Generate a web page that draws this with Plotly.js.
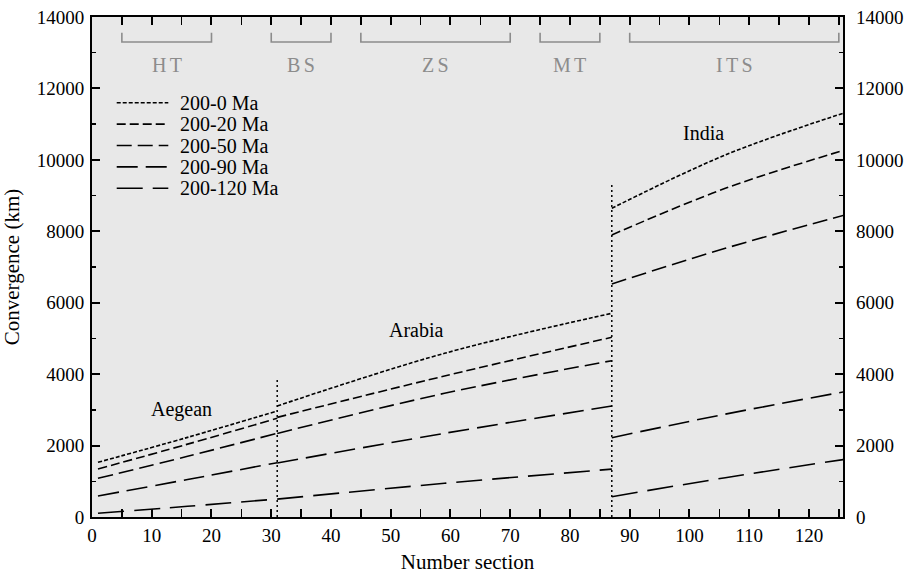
<!DOCTYPE html>
<html>
<head>
<meta charset="utf-8">
<script src="https://cdn.plot.ly/plotly-3.0.1.min.js"></script>
<style>html,body{margin:0;padding:0;background:#fff;}#chart{width:910px;height:576px;}</style>
</head>
<body>
<div id="chart"></div>
<script>
// ---- data ----
const sec1X = [1, 16, 31];
const sec2X = [31, 59, 87];
const sec3X = [87, 106, 126];

const seriesNames = ["200-0 Ma", "200-20 Ma", "200-50 Ma", "200-90 Ma", "200-120 Ma"];
const ma0   = [[1531, 2230, 2968], [3108, 4583, 5703], [8643, 10136, 11321]];
const ma20  = [[1344, 2040, 2763], [2790, 3948, 5031], [7896, 9203, 10276]];
const ma50  = [[1083, 1700, 2343], [2340, 3463, 4377], [6524, 7523, 8456]];
const ma90  = [[588, 1050, 1521], [1510, 2343, 3108], [2221, 2880, 3509]];
const ma120 = [[103, 300, 504], [500, 943, 1340], [569, 1100, 1615]];

const boundaryX = [31, 87];
const boundaryTop = [3900, 9320];

const zoneLabels = ["HT", "BS", "ZS", "MT", "ITS"];
const zoneStart = [5, 30, 45, 75, 90];
const zoneEnd = [20, 40, 70, 85, 125];

const regionLabels = ["Aegean", "Arabia", "India"];
const regionX = [15.0, 54.3, 102.3];
const regionY = [3000, 5240, 10750];

const yTicks = [0, 2000, 4000, 6000, 8000, 10000, 12000, 14000];
const yTickText = ["0", "2000", "4000", "6000", "8000", "10000", "12000", "14000"];
const xTicks = [0, 10, 20, 30, 40, 50, 60, 70, 80, 90, 100, 110, 120];

// ---- styles ----
const dashes = ["4px,2px", "9px,4px", "15px,6px", "21px,8px", "26px,10px"];
const serif = "Liberation Serif, Times New Roman, serif";

const allSeries = [ma0, ma20, ma50, ma90, ma120];
const traces = allSeries.map((s, i) => {
  const x = [...sec1X, null, ...sec2X, null, ...sec3X];
  const y = [...s[0], null, ...s[1], null, ...s[2]];
  return {
    x: x, y: y, type: "scatter", mode: "lines", name: seriesNames[i],
    line: {color: "#000", width: 1.6, dash: dashes[i], shape: "spline", smoothing: 1},
    connectgaps: false, hoverinfo: "skip", showlegend: false
  };
});

boundaryX.forEach((bx, i) => {
  traces.push({
    x: [bx, bx], y: [0, boundaryTop[i]], type: "scatter", mode: "lines",
    line: {color: "#000", width: 1.5, dash: "2px,3px"}, showlegend: false, hoverinfo: "skip"
  });
});
// invisible trace to activate right axis
traces.push({x: [0], y: [0], yaxis: "y2", mode: "markers", marker: {opacity: 0}, showlegend: false, hoverinfo: "skip"});

const shapes = zoneStart.map((x0, i) => ({
  type: "path", xref: "x", yref: "y",
  path: `M ${x0} 13560 L ${x0} 13300 L ${zoneEnd[i]} 13300 L ${zoneEnd[i]} 13560`,
  line: {color: "#8c8c8c", width: 1.6}
}));

const annotations = [];
zoneLabels.forEach((t, i) => {
  annotations.push({
    x: (zoneStart[i] + zoneEnd[i]) / 2, y: 12650, xref: "x", yref: "y",
    text: t.split("").join("\u2006"), showarrow: false,
    font: {family: serif, size: 20, color: "#8c8c8c"}
  });
});
regionLabels.forEach((t, i) => {
  annotations.push({
    x: regionX[i], y: regionY[i], xref: "x", yref: "y", text: t, showarrow: false,
    font: {family: serif, size: 20, color: "#000"}
  });
});

// custom legend (samples + labels) in paper coordinates
const legTop = 0.8286, legStep = 0.0428;
seriesNames.forEach((nm, i) => {
  const yy = legTop - i * legStep;
  shapes.push({
    type: "line", xref: "paper", yref: "paper", x0: 0.0329, x1: 0.1016, y0: yy, y1: yy,
    line: {color: "#000", width: 1.6, dash: dashes[i]}
  });
  annotations.push({
    x: 0.1145, y: yy, xref: "paper", yref: "paper", xanchor: "left", yanchor: "middle",
    text: nm, showarrow: false, font: {family: serif, size: 20, color: "#000"}
  });
});

const axisCommon = {
  showgrid: false, zeroline: false, showline: true, linecolor: "#000", linewidth: 2,
  ticks: "inside", ticklen: 8, tickwidth: 2, tickcolor: "#000",
  tickfont: {family: serif, size: 19, color: "#000"}
};

const layout = {
  width: 910, height: 576,
  margin: {l: 92, r: 67, t: 17, b: 59},
  paper_bgcolor: "#fff", plot_bgcolor: "#e8e8e8",
  font: {family: serif, color: "#000"},
  xaxis: Object.assign({}, axisCommon, {
    range: [0, 125.7], tickvals: xTicks, mirror: "allticks",
    minor: {ticks: "inside", dtick: 5, ticklen: 4, tickwidth: 1.5, tickcolor: "#000"},
    title: {text: "Number section", font: {family: serif, size: 21, color: "#000"}, standoff: 10}
  }),
  yaxis: Object.assign({}, axisCommon, {
    range: [0, 14000], tickvals: yTicks, ticktext: yTickText, mirror: "allticks",
    ticklabelstandoff: 2,
    minor: {ticks: "inside", dtick: 1000, ticklen: 4, tickwidth: 1.5, tickcolor: "#000"},
    title: {text: "Convergence (km)", font: {family: serif, size: 21, color: "#000"}, standoff: 14}
  }),
  yaxis2: Object.assign({}, axisCommon, {
    range: [0, 14000], tickvals: yTicks, ticktext: yTickText, overlaying: "y", side: "right",
    showline: false, ticks: "", ticklabelstandoff: 12
  }),
  showlegend: false,
  shapes: shapes,
  annotations: annotations
};

Plotly.newPlot("chart", traces, layout, {staticPlot: true});
</script>
</body>
</html>
